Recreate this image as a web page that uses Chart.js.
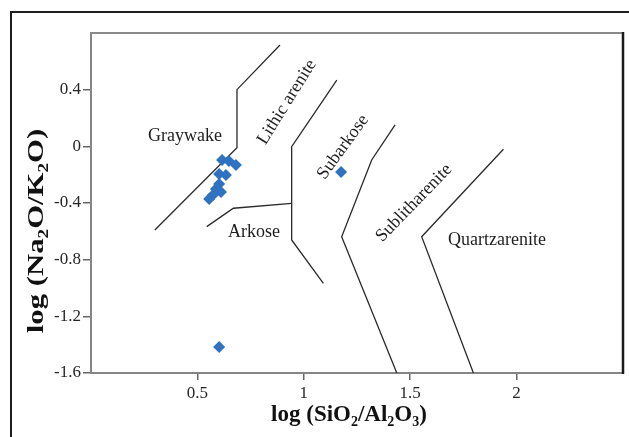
<!DOCTYPE html>
<html>
<head>
<meta charset="utf-8">
<script src="https://cdn.jsdelivr.net/npm/chart.js@4/dist/chart.umd.min.js"></script>
<style>
  html, body { margin: 0; padding: 0; background: #fff; }
  canvas { display: block; }
</style>
</head>
<body>
<canvas id="c" width="629" height="437"></canvas>
<script>
// Axis ticks
const xTicks = [0.5, 1, 1.5, 2];
const yTicks = [0.4, 0, -0.4, -0.8, -1.2, -1.6];

// Samples: log(SiO2/Al2O3) vs log(Na2O/K2O)
const sampleX = [0.616, 0.648, 0.681, 0.602, 0.634, 0.602, 0.587, 0.611, 0.573, 0.555, 0.602, 1.175];
const sampleY = [-0.096, -0.104, -0.132, -0.195, -0.202, -0.266, -0.301, -0.322, -0.344, -0.372, -1.416, -0.181];

// Field boundaries
const graywakeLineX = [0.300, 0.686, 0.686, 0.888];
const graywakeLineY = [-0.590, -0.010, 0.400, 0.715];
const lithicLineX = [1.155, 0.943, 0.943, 1.092];
const lithicLineY = [0.468, -0.003, -0.661, -0.967];
const arkoseLineX = [0.943, 0.669, 0.544];
const arkoseLineY = [-0.402, -0.437, -0.567];
const subarkoseLineX = [1.429, 1.319, 1.178, 1.437];
const subarkoseLineY = [0.151, -0.096, -0.638, -1.600];
const sublithLineX = [1.938, 1.554, 1.797];
const sublithLineY = [-0.021, -0.638, -1.600];

// Field names
const fieldNames = ['Graywake', 'Lithic arenite', 'Subarkose', 'Sublitharenite', 'Quartzarenite', 'Arkose'];
const fieldX = [0.442, 0.921, 1.184, 1.518, 1.908, 0.766];
const fieldY = [0.073, 0.313, -0.005, -0.400, -0.661, -0.608];
const fieldAngle = [0, -58, -54, -46, 0, 0];

const pts = (xs, ys) => xs.map((x, i) => ({ x: x, y: ys[i] }));

const boundaryStyle = {
  type: 'line', showLine: true, pointRadius: 0, borderColor: '#2a2a2a',
  borderWidth: 1.3, fill: false, tension: 0, order: 2
};

const SERIF = '"Liberation Serif", "Times New Roman", serif';

// Draws text made of normal and subscript pieces, centred on (0,0)
function drawSubText(ctx, parts, size) {
  const subSize = Math.round(size * 0.62);
  let total = 0;
  parts.forEach(p => {
    ctx.font = 'bold ' + (p[1] ? subSize : size) + 'px ' + SERIF;
    total += ctx.measureText(p[0]).width;
  });
  let x = -total / 2;
  ctx.textBaseline = 'alphabetic';
  ctx.textAlign = 'left';
  parts.forEach(p => {
    ctx.font = 'bold ' + (p[1] ? subSize : size) + 'px ' + SERIF;
    ctx.fillText(p[0], x, p[1] ? size * 0.22 : 0);
    x += ctx.measureText(p[0]).width;
  });
}

const decor = {
  id: 'decor',
  beforeDraw(chart) {
    const ctx = chart.ctx;
    ctx.save();
    ctx.fillStyle = '#fff';
    ctx.fillRect(0, 0, chart.width, chart.height);
    ctx.restore();
  },
  afterDraw(chart) {
    const ctx = chart.ctx;
    const a = chart.chartArea;
    const xs = chart.scales.x, ys = chart.scales.y;
    ctx.save();
    // outer frame
    ctx.strokeStyle = '#1e1e1e';
    ctx.lineWidth = 2;
    ctx.beginPath();
    ctx.moveTo(11, chart.height);
    ctx.lineTo(11, 12);
    ctx.lineTo(chart.width, 12);
    ctx.stroke();
    // plot box top and right
    ctx.strokeStyle = '#8a8a8a';
    ctx.lineWidth = 2;
    ctx.beginPath();
    ctx.moveTo(a.left, a.top);
    ctx.lineTo(a.right, a.top);
    ctx.stroke();
    ctx.strokeStyle = '#1a1a1a';
    ctx.lineWidth = 2.5;
    ctx.beginPath();
    ctx.moveTo(a.right, a.top - 1);
    ctx.lineTo(a.right, a.bottom + 1);
    ctx.stroke();

    // field names
    ctx.fillStyle = '#1e1e1e';
    ctx.font = '18px ' + SERIF;
    ctx.textAlign = 'center';
    ctx.textBaseline = 'middle';
    fieldNames.forEach((name, i) => {
      ctx.save();
      ctx.translate(xs.getPixelForValue(fieldX[i]), ys.getPixelForValue(fieldY[i]));
      ctx.rotate(fieldAngle[i] * Math.PI / 180);
      ctx.fillText(name, 0, 0);
      ctx.restore();
    });

    // axis titles
    ctx.fillStyle = '#111';
    ctx.save();
    ctx.translate((a.left + a.right) / 2 - 8, 421);
    drawSubText(ctx, [['log (SiO', 0], ['2', 1], ['/Al', 0], ['2', 1], ['O', 0], ['3', 1], [')', 0]], 23);
    ctx.restore();
    ctx.save();
    ctx.translate(43, 231);
    ctx.rotate(-Math.PI / 2);
    ctx.scale(1.28, 1);
    drawSubText(ctx, [['log (Na', 0], ['2', 1], ['O/K', 0], ['2', 1], ['O)', 0]], 24);
    ctx.restore();
    ctx.restore();
  }
};

new Chart(document.getElementById('c'), {
  type: 'scatter',
  data: {
    datasets: [
      Object.assign({ data: pts(graywakeLineX, graywakeLineY) }, boundaryStyle),
      Object.assign({ data: pts(lithicLineX, lithicLineY) }, boundaryStyle),
      Object.assign({ data: pts(arkoseLineX, arkoseLineY) }, boundaryStyle),
      Object.assign({ data: pts(subarkoseLineX, subarkoseLineY) }, boundaryStyle),
      Object.assign({ data: pts(sublithLineX, sublithLineY) }, boundaryStyle),
      {
        label: 'Samples',
        data: pts(sampleX, sampleY),
        pointStyle: 'rectRot',
        pointRadius: 6,
        backgroundColor: '#2f72bf',
        borderColor: '#2f72bf',
        borderWidth: 0,
        order: 1
      }
    ]
  },
  options: {
    responsive: false,
    animation: false,
    devicePixelRatio: 1,
    layout: { padding: { left: 0, top: 33, right: 6, bottom: 0 } },
    plugins: { legend: { display: false }, tooltip: { enabled: false } },
    scales: {
      x: {
        type: 'linear', min: 0, max: 2.5,
        afterBuildTicks: s => { s.ticks = xTicks.map(v => ({ value: v })); },
        afterFit: s => { s.height = 64; },
        ticks: {
          callback: v => String(v), padding: 3,
          font: { family: SERIF, size: 17 }, color: '#262626', maxRotation: 0
        },
        grid: { drawOnChartArea: false, drawTicks: true, tickLength: 7, color: '#666', lineWidth: 1.5 },
        border: { display: true, color: '#858585', width: 2 }
      },
      y: {
        type: 'linear', min: -1.6, max: 0.8,
        afterBuildTicks: s => { s.ticks = yTicks.map(v => ({ value: v })); },
        afterFit: s => { s.width = 91; },
        ticks: {
          callback: v => String(v), padding: 2,
          font: { family: SERIF, size: 17 }, color: '#262626'
        },
        grid: { drawOnChartArea: false, drawTicks: true, tickLength: 8, color: '#666', lineWidth: 1.5 },
        border: { display: true, color: '#858585', width: 2 }
      }
    }
  },
  plugins: [decor]
});
</script>
</body>
</html>
